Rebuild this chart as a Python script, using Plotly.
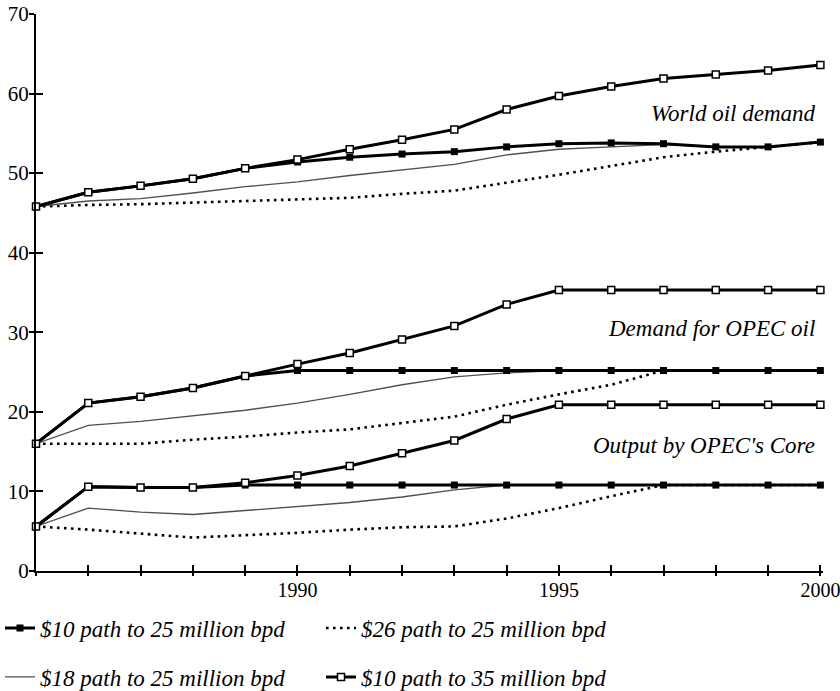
import plotly.graph_objects as go

years = list(range(1985, 2001))
x_tick_text = ["", "", "", "", "", "1990", "", "", "", "", "1995", "", "", "", "", "2000"]
y_ticks = [0, 10, 20, 30, 40, 50, 60, 70]

# World oil demand
world_10_25 = [45.8, 47.6, 48.4, 49.3, 50.6, 51.4, 52.0, 52.4, 52.7, 53.3, 53.7, 53.8, 53.7, 53.3, 53.3, 53.9]
world_26_25 = [45.8, 46.0, 46.1, 46.3, 46.5, 46.7, 46.9, 47.4, 47.8, 48.8, 49.8, 50.9, 52.0, 52.7, 53.3, 53.9]
world_18_25 = [45.8, 46.5, 46.8, 47.5, 48.3, 48.9, 49.7, 50.4, 51.1, 52.3, 53.0, 53.3, 53.6, 53.3, 53.3, 53.9]
world_10_35 = [45.8, 47.6, 48.4, 49.3, 50.6, 51.7, 53.0, 54.2, 55.5, 58.0, 59.7, 60.9, 61.9, 62.4, 62.9, 63.6]

# Demand for OPEC oil
opec_10_25 = [16.0, 21.1, 21.9, 23.0, 24.5, 25.2, 25.2, 25.2, 25.2, 25.2, 25.2, 25.2, 25.2, 25.2, 25.2, 25.2]
opec_26_25 = [16.0, 16.0, 16.0, 16.5, 16.9, 17.4, 17.8, 18.6, 19.4, 20.9, 22.2, 23.4, 25.2, 25.2, 25.2, 25.2]
opec_18_25 = [16.0, 18.3, 18.8, 19.5, 20.2, 21.1, 22.2, 23.4, 24.4, 24.9, 25.2, 25.2, 25.2, 25.2, 25.2, 25.2]
opec_10_35 = [16.0, 21.1, 21.9, 23.0, 24.5, 26.0, 27.4, 29.1, 30.8, 33.5, 35.3, 35.3, 35.3, 35.3, 35.3, 35.3]

# Output by OPEC's core
core_10_25 = [5.6, 10.6, 10.5, 10.5, 10.8, 10.8, 10.8, 10.8, 10.8, 10.8, 10.8, 10.8, 10.8, 10.8, 10.8, 10.8]
core_26_25 = [5.6, 5.2, 4.7, 4.2, 4.5, 4.8, 5.2, 5.5, 5.6, 6.6, 7.9, 9.4, 10.8, 10.8, 10.8, 10.8]
core_18_25 = [5.6, 7.9, 7.4, 7.1, 7.6, 8.1, 8.6, 9.3, 10.2, 10.8, 10.8, 10.8, 10.8, 10.8, 10.8, 10.8]
core_10_35 = [5.6, 10.6, 10.5, 10.5, 11.1, 12.0, 13.2, 14.8, 16.4, 19.1, 20.9, 20.9, 20.9, 20.9, 20.9, 20.9]

series_names = [
    "$10 path to 25 million bpd",
    "$26 path to 25 million bpd",
    "$18 path to 25 million bpd",
    "$10 path to 35 million bpd",
]
group_labels = ["World oil demand", "Demand for OPEC oil", "Output by OPEC's Core"]


def joined(*groups):
    xs, ys = [], []
    for i, g in enumerate(groups):
        if i:
            xs.append(None)
            ys.append(None)
        xs.extend(years)
        ys.extend(g)
    return xs, ys


FONT = "Liberation Serif"
fig = go.Figure()

# draw order: dotted, thin, filled-square, open-square (open on top)
x, y = joined(world_26_25, opec_26_25, core_26_25)
fig.add_trace(go.Scatter(x=x, y=y, mode="lines", name=series_names[1],
                         line=dict(color="black", width=2.6, dash="2.6px,4.4px"),
                         legend="legend", legendrank=2, cliponaxis=False))
x, y = joined(world_18_25, opec_18_25, core_18_25)
fig.add_trace(go.Scatter(x=x, y=y, mode="lines", name=series_names[2],
                         line=dict(color="#505050", width=1.4),
                         legend="legend2", legendrank=1, cliponaxis=False))
x, y = joined(world_10_25, opec_10_25, core_10_25)
fig.add_trace(go.Scatter(x=x, y=y, mode="lines+markers", name=series_names[0],
                         line=dict(color="black", width=3),
                         marker=dict(symbol="square", size=7, color="black"),
                         legend="legend", legendrank=1, cliponaxis=False))
x, y = joined(world_10_35, opec_10_35, core_10_35)
fig.add_trace(go.Scatter(x=x, y=y, mode="lines+markers", name=series_names[3],
                         line=dict(color="black", width=3),
                         marker=dict(symbol="square", size=7, color="white",
                                     line=dict(color="black", width=1.5)),
                         legend="legend2", legendrank=2, cliponaxis=False))
# empty trace so the overlay axes (other half of crossing ticks) get drawn
fig.add_trace(go.Scatter(x=[None], y=[None], xaxis="x2", yaxis="y2", mode="lines",
                         showlegend=False, hoverinfo="skip"))

legend_common = dict(orientation="h", xanchor="left", yanchor="middle",
                     xref="container", yref="container",
                     font=dict(family=FONT, size=23, color="black", style="italic"),
                     entrywidth=276, entrywidthmode="pixels",
                     bgcolor="rgba(0,0,0,0)", itemwidth=30)

x_range = [1985, 2000.05]
fig.update_layout(
    width=840, height=691,
    margin=dict(l=36, r=17, t=14, b=120, autoexpand=False),
    paper_bgcolor="white", plot_bgcolor="white",
    showlegend=True,
    legend=dict(x=-0.007, y=0.0912, **legend_common),
    legend2=dict(x=-0.007, y=0.0203, **legend_common),
    xaxis=dict(range=x_range, tickmode="array", tickvals=years, ticktext=x_tick_text,
               ticks="inside", ticklen=6, tickwidth=1.5, tickcolor="black",
               automargin=False, ticklabeloverflow="allow",
               showline=True, linecolor="black", linewidth=2, showgrid=False, zeroline=False,
               tickfont=dict(family=FONT, size=20, color="black")),
    yaxis=dict(range=[0, 70], tickmode="array", tickvals=y_ticks,
               ticks="outside", ticklen=5, tickwidth=2, tickcolor="black",
               ticklabelstandoff=-4, automargin=False, ticklabeloverflow="allow",
               showline=True, linecolor="black", linewidth=2, showgrid=False, zeroline=False,
               tickfont=dict(family=FONT, size=21, color="black")),
    xaxis2=dict(overlaying="x", range=x_range, anchor="y2", side="bottom",
                tickmode="array", tickvals=years, showticklabels=False, automargin=False,
                ticks="outside", ticklen=4, tickwidth=1.5, tickcolor="black",
                showline=False, showgrid=False, zeroline=False),
    yaxis2=dict(overlaying="y", range=[0, 70], anchor="x2", side="left",
                tickmode="array", tickvals=y_ticks, showticklabels=False, automargin=False,
                ticks="inside", ticklen=7, tickwidth=2, tickcolor="black",
                showline=False, showgrid=False, zeroline=False),
)

label_y = [57.5, 30.5, 15.8]
for text, yy in zip(group_labels, label_y):
    fig.add_annotation(x=1999.93, y=yy, xref="x", yref="y", text=text, showarrow=False,
                       xanchor="right", yanchor="middle",
                       font=dict(family=FONT, size=23, color="black", style="italic"))

fig.write_html("out.html", config={"displayModeBar": False},
               post_script="document.body.style.margin='0';document.body.style.overflow='hidden';")
